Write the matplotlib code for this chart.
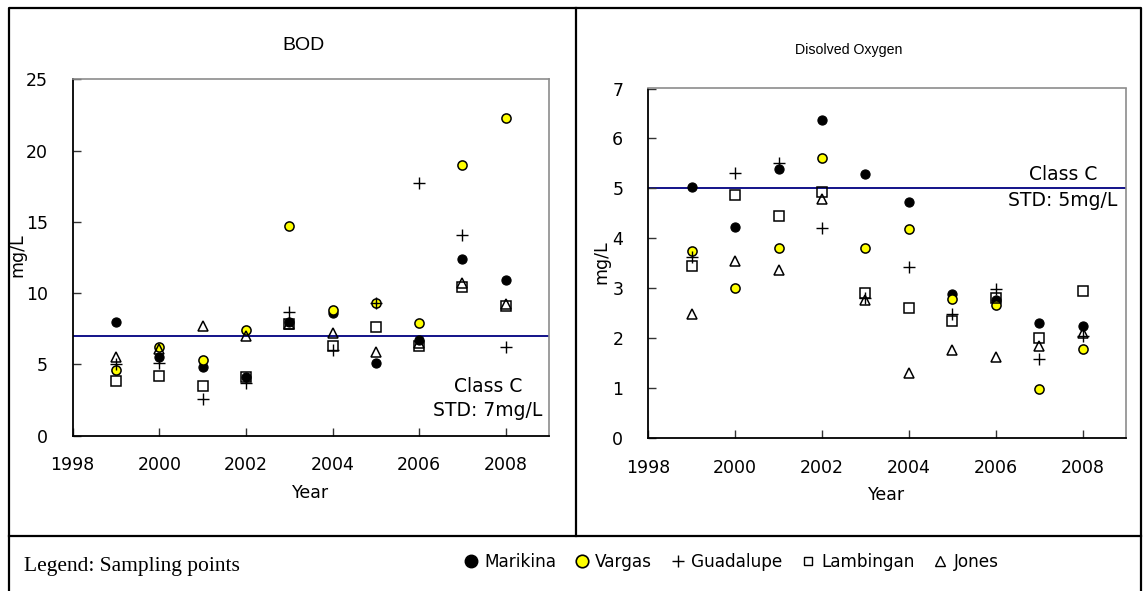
import matplotlib
matplotlib.use("Agg")
import matplotlib.pyplot as plt
from matplotlib.lines import Line2D

# Sampling years
years = [1999, 2000, 2001, 2002, 2003, 2004, 2005, 2006, 2007, 2008]

# BOD (mg/L) per sampling point
bod_marikina = [8.0, 5.5, 4.8, 4.1, 8.0, 8.6, 5.1, 6.7, 12.4, 10.9]
bod_vargas = [4.6, 6.2, 5.3, 7.4, 14.7, 8.8, 9.3, 7.9, 19.0, 22.3]
bod_guadalupe = [5.0, 5.1, 2.6, 3.7, 8.7, 6.0, 9.3, 17.7, 14.1, 6.2]
bod_lambingan = [3.8, 4.2, 3.5, 4.1, 7.8, 6.3, 7.6, 6.3, 10.4, 9.1]
bod_jones = [5.5, 6.1, 7.7, 7.0, 7.8, 7.2, 5.9, 6.5, 10.7, 9.2]

# Dissolved oxygen (mg/L) per sampling point
do_marikina = [5.03, 4.22, 5.38, 6.37, 5.29, 4.73, 2.89, 2.76, 2.30, 2.24]
do_vargas = [3.74, 3.01, 3.80, 5.61, 3.80, 4.18, 2.79, 2.66, 0.97, 1.78]
do_guadalupe = [3.63, 5.30, 5.51, 4.20, 2.80, 3.43, 2.48, 2.99, 1.57, 2.04]
do_lambingan = [3.44, 4.86, 4.45, 4.93, 2.91, 2.59, 2.34, 2.81, 2.00, 2.95]
do_jones = [2.47, 3.54, 3.37, 4.78, 2.76, 1.30, 1.76, 1.62, 1.84, 2.10]

# Class C standards
bod_std = 7
do_std = 5

stations = ["Marikina", "Vargas", "Guadalupe", "Lambingan", "Jones"]
x_ticks = [1998, 2000, 2002, 2004, 2006, 2008]
bod_yticks = [0, 5, 10, 15, 20, 25]
do_yticks = [0, 1, 2, 3, 4, 5, 6, 7]

plt.rcParams["font.family"] = ["DejaVu Sans"]

W, H = 1143, 591
fig = plt.figure(figsize=(W / 100, H / 100), dpi=100)


def box(left, top, right, bottom):
    return [left / W, 1 - bottom / H, (right - left) / W, (bottom - top) / H]


def fx(x):
    return x / W


def fy(y):
    return 1 - y / H


styles = [
    dict(marker="o", ms=6.6, mfc="black", mec="black", mew=0.8),
    dict(marker="o", ms=6.6, mfc="#ffff00", mec="black", mew=1.1),
    dict(marker="+", ms=9, mec="black", mew=1.0),
    dict(marker="s", ms=6.6, mfc="none", mec="black", mew=1.1),
    dict(marker="^", ms=7.8, mfc="none", mec="black", mew=1.1),
]


def panel(rect, series, yticks, ymax, std):
    ax = fig.add_axes(rect)
    for name, vals, st in zip(stations, series, styles):
        ax.plot(years, vals, linestyle="none", label=name, **st)
    ax.axhline(std, color="#000080", lw=1.3, zorder=1)
    ax.set_xlim(1998, 2009)
    ax.set_ylim(0, ymax)
    ax.set_xticks(x_ticks)
    ax.set_yticks(yticks)
    ax.tick_params(direction="in", length=6, width=1, labelsize=12.5,
                   color="#333333")
    ax.tick_params(axis="y", pad=18)
    ax.tick_params(axis="x", pad=15)
    for s in ("left", "bottom"):
        ax.spines[s].set_color("black")
        ax.spines[s].set_linewidth(1.3)
    for s in ("top", "right"):
        ax.spines[s].set_color("#8c8c8c")
        ax.spines[s].set_linewidth(1.2)
    return ax


ax1 = panel(box(72.7, 79.3, 549, 435.6),
            [bod_marikina, bod_vargas, bod_guadalupe, bod_lambingan, bod_jones],
            bod_yticks, 25, bod_std)
ax2 = panel(box(648.3, 88.5, 1126, 437.7),
            [do_marikina, do_vargas, do_guadalupe, do_lambingan, do_jones],
            do_yticks, 7, do_std)

# Titles and axis labels
fig.text(fx(304), fy(45), "BOD", ha="center", va="center", fontsize=14,
         family="Liberation Sans")
fig.text(fx(849), fy(50), "Disolved Oxygen", ha="center", va="center",
         fontsize=10.2, family="Liberation Sans")
fig.text(fx(17), fy(255), "mg/L", rotation=90, ha="center", va="center", fontsize=12.5)
fig.text(fx(601), fy(262), "mg/L", rotation=90, ha="center", va="center", fontsize=12.5)
fig.text(fx(311), fy(493), "Year", ha="center", va="center", fontsize=12.5)
fig.text(fx(887), fy(495), "Year", ha="center", va="center", fontsize=12.5)

# Standard annotations
fig.text(fx(488), fy(386.7), "Class C", ha="center", va="center", fontsize=13.5)
fig.text(fx(488), fy(411), "STD: 7mg/L", ha="center", va="center", fontsize=13.5)
fig.text(fx(1063), fy(174.3), "Class C", ha="center", va="center", fontsize=13.5)
fig.text(fx(1063), fy(201), "STD: 5mg/L", ha="center", va="center", fontsize=13.5)

# Frame lines around panels and legend row
frame_kw = dict(color="black", lw=1.6, transform=fig.transFigure)
fig.add_artist(Line2D([fx(9), fx(1141), fx(1141), fx(9), fx(9)],
                      [fy(600), fy(600), fy(8), fy(8), fy(600)], **frame_kw))
fig.add_artist(Line2D([fx(575.7), fx(575.7)], [fy(8), fy(535.7)], **frame_kw))
fig.add_artist(Line2D([fx(9), fx(1141)], [fy(535.7), fy(535.7)], **frame_kw))

fig.text(fx(24), fy(567), "Legend: Sampling points", ha="left", va="center",
         fontsize=15.5, family="Liberation Serif")

leg_handles = [
    Line2D([], [], linestyle="none", marker="o", ms=9, mfc="black", mec="black"),
    Line2D([], [], linestyle="none", marker="o", ms=9, mfc="#ffff00", mec="black", mew=1.2),
    Line2D([], [], linestyle="none", marker="+", ms=8, mec="black", mew=1.0),
    Line2D([], [], linestyle="none", marker="s", ms=6, mfc="none", mec="black", mew=1.0),
    Line2D([], [], linestyle="none", marker="^", ms=6.5, mfc="none", mec="black", mew=1.0),
]
fig.legend(leg_handles, stations, loc="center left",
           bbox_to_anchor=(fx(464), fy(562)), ncol=5, frameon=False,
           fontsize=12.2, handlelength=0.8, handletextpad=0.4,
           columnspacing=1.1, borderpad=0, borderaxespad=0)

fig.savefig("out.png", dpi=100, facecolor="white")
